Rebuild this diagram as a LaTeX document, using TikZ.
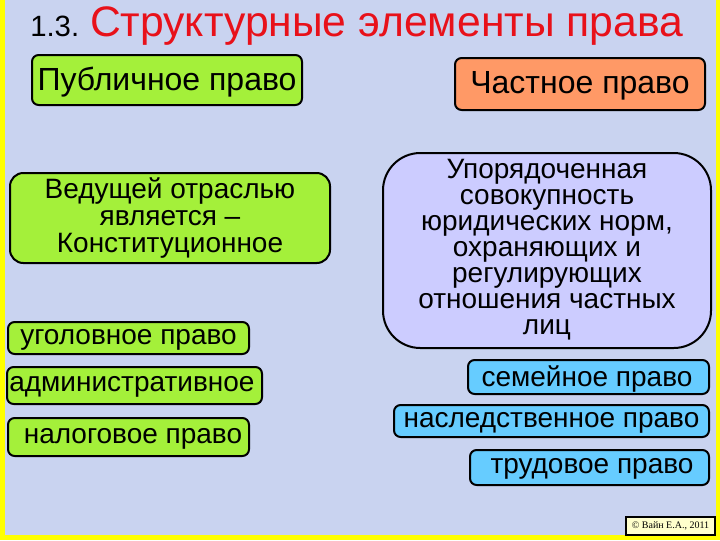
\documentclass[tikz,border=0pt]{standalone}
\usepackage{fontspec}
\setmainfont{Liberation Sans}
\newfontfamily\cpyfont{Liberation Serif}
\definecolor{bg}{HTML}{C9D3F0}
\definecolor{grn}{HTML}{A4F03A}
\definecolor{sal}{HTML}{FF9966}
\definecolor{lav}{HTML}{CCCCFF}
\definecolor{blu}{HTML}{66CCFF}
\definecolor{ylw}{HTML}{FFFF00}
\definecolor{ttl}{HTML}{E8111A}
\definecolor{cpy}{HTML}{FFFFCC}
\begin{document}
\begin{tikzpicture}[x=0.75pt,y=-0.75pt,
  bx/.style={draw=black,line width=1.5pt,rounded corners=5pt},
  tx/.style={align=center,inner sep=0pt,font=\fontsize{21}{20}\selectfont}]
\useasboundingbox (0,0) rectangle (720,540);
\fill[bg] (0,0) rectangle (720,540);
\fill[ylw] (0,0) rectangle (5,540);
\fill[ylw] (0,535) rectangle (720,540);
\fill[ylw] (716,0) rectangle (720,540);
\node[anchor=base west,inner sep=0pt] (title) at (30,36) {\fontsize{22}{24}\selectfont 1.3. \textcolor{ttl}{\fontsize{32}{34}\selectfont Структурные элементы права}};
\draw[bx,fill=grn] (32,55) rectangle (302,105);
\node[tx,font=\fontsize{24}{26}\selectfont] (pub) at (167,82) {Публичное право};
\draw[bx,fill=sal] (455,58) rectangle (705,110);
\node[tx,font=\fontsize{24}{26}\selectfont] (pri) at (580,86) {Частное право};
\draw[bx,fill=grn,rounded corners=10pt] (10,173) rectangle (330,263);
\node[tx,font=\fontsize{21}{20.3}\selectfont] (ved) at (170,218) {Ведущей отраслью\\является –\\Конституционное};
\draw[bx,fill=lav,rounded corners=28pt] (383,153) rectangle (711,348);
\node[tx,font=\fontsize{21}{19.5}\selectfont] (upo) at (547,250) {Упорядоченная\\совокупность\\юридических норм,\\охраняющих и\\регулирующих\\отношения частных\\лиц};
\draw[bx,fill=grn] (8,322) rectangle (249,354);
\node[tx] (ugo) at (128.5,340) {уголовное право};
\draw[bx,fill=grn] (7,367) rectangle (262,404);
\node[tx,anchor=west] (adm) at (9,387) {административное};
\draw[bx,fill=grn] (8,418) rectangle (249,456);
\node[tx] (nal) at (133,439) {налоговое право};
\draw[bx,fill=blu] (468,360) rectangle (709,394);
\node[tx] (sem) at (587,379) {семейное право};
\draw[bx,fill=blu] (394,405) rectangle (709,437);
\node[tx] (nas) at (551.5,423) {наследственное право};
\draw[bx,fill=blu] (470,450) rectangle (709,485);
\node[tx] (tru) at (592,469) {трудовое право};
\draw[fill=cpy,line width=0.8pt] (626,517) rectangle (715,535);
\node[inner sep=0pt,font=\cpyfont\fontsize{7.5}{8}\selectfont] (cp) at (670.5,526) {© Вайн Е.А., 2011};
\end{tikzpicture}
\end{document}
